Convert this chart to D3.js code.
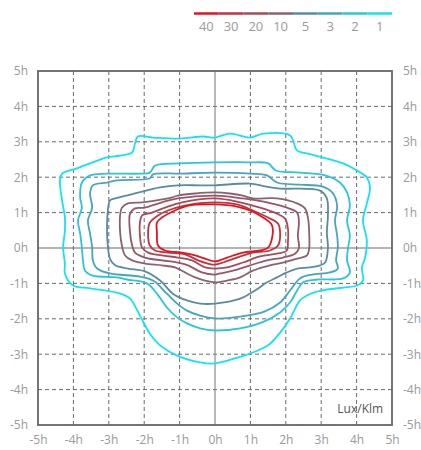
<!DOCTYPE html>
<html><head><meta charset="utf-8">
<script src="https://cdn.jsdelivr.net/npm/d3@7"></script>
<style>
body{margin:0;background:#fff;}
svg{display:block;font-family:"Open Sans","DejaVu Sans",sans-serif;}
</style></head>
<body><svg id="c" width="421" height="450"></svg>
<script>
// ---- data ----
const legendLevels = [40, 30, 20, 10, 5, 3, 2, 1];
const legendColors = ["#e0161f", "#c2323f", "#a64b5b", "#8a6373", "#5a8c9e", "#44a6bc", "#2cc4dc", "#14e2f4"];
const tickValues = [-5, -4, -3, -2, -1, 0, 1, 2, 3, 4, 5];
const contourLevels = [1, 2, 3, 5, 10, 15, 20, 30, 40];

const c1 = [[0,-3.26],[-0.42,-3.23],[-1.07,-3.04],[-1.55,-2.75],[-1.84,-2.42],[-2.12,-1.91],[-2.40,-1.43],[-2.68,-1.29],[-3.53,-1.14],[-4.01,-1.06],[-4.24,-0.72],[-4.24,-0.44],[-4.29,0.01],[-4.24,0.49],[-4.24,0.86],[-4.32,1.34],[-4.38,1.91],[-4.32,2.10],[-3.90,2.25],[-3.53,2.39],[-3.05,2.56],[-2.68,2.61],[-2.34,2.70],[-2.26,2.95],[-2.18,3.15],[-1.75,3.12],[-0.99,3.09],[-0.34,3.15],[0,3.12],[0.42,3.23],[0.99,3.12],[1.36,3.23],[2.12,3.18],[2.32,2.75],[2.60,2.67],[3.62,2.39],[4.01,2.19],[4.29,1.99],[4.38,1.71],[4.29,1.26],[4.18,0.78],[4.29,0.21],[4.24,-0.27],[4.15,-0.55],[4.18,-0.92],[4.01,-1.06],[3.62,-1.12],[3.02,-1.20],[2.60,-1.34],[2.40,-1.48],[2.12,-1.99],[1.84,-2.39],[1.50,-2.75],[0.99,-2.98],[0.56,-3.12]];
const c2 = [[0,2.42],[0.99,2.42],[1.50,2.39],[1.72,2.19],[2.40,2.13],[3.11,2.05],[3.53,1.85],[3.73,1.57],[3.81,1.20],[3.73,0.78],[3.81,0.35],[3.76,0.01],[3.73,-0.35],[3.81,-0.69],[3.62,-0.86],[2.88,-0.89],[2.49,-0.97],[2.32,-1.20],[2.12,-1.54],[1.84,-1.82],[1.33,-2.10],[0.71,-2.27],[0,-2.33],[-0.42,-2.27],[-0.79,-2.13],[-1.07,-1.96],[-1.36,-1.68],[-1.64,-1.29],[-1.92,-1.00],[-2.49,-0.89],[-2.77,-0.83],[-3.45,-0.78],[-3.67,-0.64],[-3.73,-0.35],[-3.76,0.01],[-3.81,0.41],[-3.87,0.78],[-3.76,1.14],[-3.81,1.43],[-3.76,1.85],[-3.53,2.05],[-3.05,2.10],[-2.12,2.10],[-1.84,2.13],[-1.69,2.33],[-0.99,2.39]];
const c3 = [[0,2.13],[0.99,2.10],[1.47,2.05],[1.75,1.85],[2.40,1.79],[3.02,1.74],[3.31,1.57],[3.45,1.20],[3.39,0.78],[3.45,0.35],[3.47,0.01],[3.42,-0.35],[3.47,-0.58],[3.25,-0.69],[2.74,-0.75],[2.40,-0.86],[2.12,-1.20],[1.84,-1.54],[1.41,-1.79],[0.71,-1.94],[0,-1.99],[-0.42,-1.91],[-0.79,-1.77],[-1.07,-1.57],[-1.36,-1.29],[-1.75,-0.92],[-2.12,-0.81],[-2.97,-0.72],[-3.33,-0.58],[-3.45,-0.35],[-3.47,0.01],[-3.53,0.41],[-3.59,0.78],[-3.47,1.14],[-3.53,1.54],[-3.45,1.77],[-3.05,1.85],[-2.77,1.91],[-1.84,1.97],[-1.75,2.08],[-0.99,2.10]];
const c5 = [[0,1.77],[0.99,1.82],[1.41,1.74],[1.84,1.68],[2.97,1.62],[3.16,1.40],[3.19,0.92],[3.16,0.44],[3.19,-0.01],[3.11,-0.41],[2.97,-0.49],[2.68,-0.55],[2.32,-0.58],[2.03,-0.69],[1.75,-0.83],[1.47,-0.97],[1.13,-1.20],[0.71,-1.43],[0,-1.57],[-0.42,-1.57],[-0.79,-1.48],[-1.19,-1.29],[-1.55,-0.92],[-1.98,-0.66],[-2.46,-0.58],[-2.82,-0.49],[-2.97,-0.30],[-3.02,-0.01],[-3.05,0.44],[-3.02,1.12],[-2.97,1.34],[-2.82,1.40],[-2.26,1.54],[-1.55,1.71],[-1.05,1.77],[-0.42,1.77]];
const c10 = [[0,1.57],[0.42,1.54],[0.79,1.48],[1.07,1.40],[1.75,1.40],[2.32,1.26],[2.54,1.12],[2.63,0.83],[2.66,0.44],[2.66,-0.01],[2.60,-0.21],[2.32,-0.30],[1.92,-0.41],[1.55,-0.49],[1.07,-0.64],[0.71,-0.83],[0.34,-0.92],[0,-0.97],[-0.28,-0.92],[-0.56,-0.83],[-0.85,-0.69],[-1.13,-0.55],[-1.50,-0.49],[-1.98,-0.44],[-2.34,-0.35],[-2.54,-0.21],[-2.63,0.07],[-2.68,0.44],[-2.68,0.92],[-2.63,1.14],[-2.46,1.26],[-2.06,1.29],[-1.69,1.34],[-1.21,1.43],[-1.05,1.48],[-0.56,1.54]];
const c15 = [[0,1.48],[0.79,1.40],[1.47,1.29],[2.03,1.14],[2.32,1.00],[2.37,0.72],[2.34,0.35],[2.37,-0.01],[2.26,-0.16],[1.92,-0.27],[1.47,-0.35],[0.99,-0.49],[0.51,-0.64],[0.14,-0.72],[0,-0.75],[-0.37,-0.69],[-0.76,-0.49],[-1.05,-0.41],[-1.50,-0.35],[-1.98,-0.27],[-2.26,-0.13],[-2.34,0.07],[-2.40,0.44],[-2.40,0.97],[-2.26,1.12],[-1.98,1.14],[-1.50,1.29],[-1.05,1.40]];
const c20 = [[0,1.40],[0.71,1.29],[1.27,1.14],[1.75,0.97],[1.98,0.83],[2.06,0.55],[2.06,0.16],[2.03,-0.07],[1.75,-0.16],[1.27,-0.24],[0.79,-0.41],[0.34,-0.55],[0,-0.58],[-0.28,-0.55],[-0.65,-0.35],[-1.05,-0.27],[-1.50,-0.21],[-1.89,-0.13],[-2.06,0.01],[-2.12,0.35],[-2.12,0.72],[-2.06,0.92],[-1.78,1.00],[-1.41,1.14],[-0.93,1.29]];
const c30 = [[0,1.29],[0.62,1.23],[1.07,1.06],[1.50,0.86],[1.78,0.69],[1.84,0.35],[1.78,0.07],[1.55,-0.07],[1.07,-0.13],[0.62,-0.27],[0.23,-0.41],[0,-0.47],[-0.20,-0.44],[-0.48,-0.35],[-0.85,-0.18],[-1.33,-0.13],[-1.69,-0.07],[-1.84,0.07],[-1.89,0.44],[-1.84,0.72],[-1.61,0.92],[-1.33,1.06],[-0.85,1.20]];
const c40 = [[0,1.23],[0.62,1.17],[0.99,1.06],[1.36,0.86],[1.61,0.64],[1.61,0.27],[1.50,0.01],[1.27,-0.07],[0.79,-0.13],[0.34,-0.27],[0,-0.38],[-0.28,-0.30],[-0.56,-0.21],[-0.93,-0.13],[-1.41,-0.07],[-1.61,0.07],[-1.64,0.44],[-1.64,0.72],[-1.50,0.86],[-1.13,1.06],[-0.76,1.20]];
const contourPoints = [c1, c2, c3, c5, c10, c15, c20, c30, c40];

// ---- drawing ----
const svg = d3.select("#c");
const x = d3.scaleLinear().domain([-5, 5]).range([38, 392]);
const y = d3.scaleLinear().domain([-5, 5]).range([425, 71]);
const color = d3.scaleLinear().domain(legendLevels).range(legendColors);
const fmt = d => d + "h";
const labelColor = "#9a9a9a";

// grid
const inner = tickValues.filter(d => d !== 0 && Math.abs(d) !== 5);
const grid = svg.append("g");
grid.selectAll("line.v").data(inner).join("line")
  .attr("x1", d => x(d)).attr("x2", d => x(d)).attr("y1", y(5)).attr("y2", y(-5))
  .attr("stroke", "#6a6a6a").attr("stroke-width", 1).attr("stroke-dasharray", "4,3");
grid.selectAll("line.h").data(inner).join("line")
  .attr("y1", d => y(d)).attr("y2", d => y(d)).attr("x1", x(-5)).attr("x2", x(5))
  .attr("stroke", "#6a6a6a").attr("stroke-width", 1).attr("stroke-dasharray", "4,3");
// zero lines
svg.append("line").attr("x1", x(0)).attr("x2", x(0)).attr("y1", y(5)).attr("y2", y(-5))
  .attr("stroke", "#8a8a8a").attr("stroke-width", 1.2);
svg.append("line").attr("y1", y(0)).attr("y2", y(0)).attr("x1", x(-5)).attr("x2", x(5))
  .attr("stroke", "#6a6a6a").attr("stroke-width", 1.2);

// contours
const line = d3.line().x(d => x(d[0])).y(d => y(d[1])).curve(d3.curveCatmullRomClosed.alpha(0.5));
svg.append("g").selectAll("path").data(contourPoints).join("path")
  .attr("d", d => line(d))
  .attr("fill", "none")
  .attr("stroke", (d, i) => color(contourLevels[i]))
  .attr("stroke-width", 1.8)
  .attr("stroke-linejoin", "round");

// frame
svg.append("rect").attr("x", x(-5)).attr("y", y(5)).attr("width", x(5) - x(-5)).attr("height", y(-5) - y(5))
  .attr("fill", "none").attr("stroke", "#666").attr("stroke-width", 1.8);

// axes labels
function styleAxis(g) {
  g.select(".domain").remove();
  g.selectAll(".tick line").remove();
  g.selectAll("text").attr("fill", labelColor).style("font-size", "12px")
    .style("font-family", '"Open Sans","DejaVu Sans",sans-serif');
}
svg.append("g").attr("transform", `translate(${x(-5) - 4},0)`)
  .call(d3.axisLeft(y).tickValues(tickValues).tickFormat(fmt).tickSize(0).tickPadding(6)).call(styleAxis);
svg.append("g").attr("transform", `translate(${x(5) + 4},0)`)
  .call(d3.axisRight(y).tickValues(tickValues).tickFormat(fmt).tickSize(0).tickPadding(7)).call(styleAxis);
svg.append("g").attr("transform", `translate(0,${y(-5) + 6})`)
  .call(d3.axisBottom(x).tickValues(tickValues).tickFormat(fmt).tickSize(0).tickPadding(4)).call(styleAxis);

// unit label
svg.append("text").attr("x", x(4.75)).attr("y", y(-4.67)).attr("text-anchor", "end")
  .attr("fill", "#555").style("font-size", "12px").text("Lux/Klm");

// legend
const lx = d3.scaleBand().domain(legendLevels).range([194, 392]).padding(0);
const lg = svg.append("g");
lg.selectAll("line").data(legendLevels).join("line")
  .attr("x1", d => lx(d)).attr("x2", d => lx(d) + lx.bandwidth()).attr("y1", 13.5).attr("y2", 13.5)
  .attr("stroke", d => color(d)).attr("stroke-width", 2.5);
lg.selectAll("text").data(legendLevels).join("text")
  .attr("x", d => lx(d) + lx.bandwidth() / 2).attr("y", 31).attr("text-anchor", "middle")
  .attr("fill", labelColor).style("font-size", "13px").text(d => d);
</script></body></html>
